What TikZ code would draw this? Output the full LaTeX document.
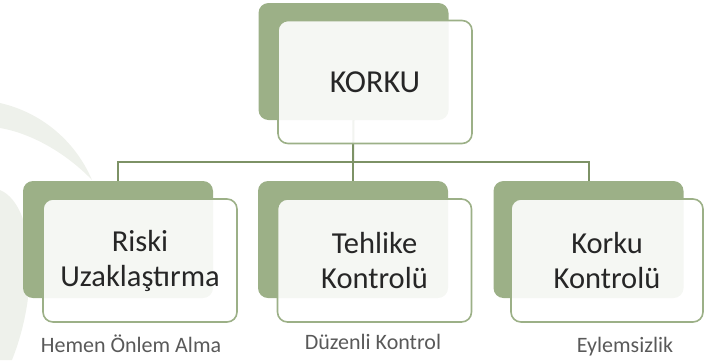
\documentclass[tikz,border=0pt]{standalone}
\usepackage{fontspec}
\setmainfont{Carlito}
\definecolor{backgreen}{HTML}{9CB087}
\definecolor{linegreen}{HTML}{7D9266}
\definecolor{swoosh}{HTML}{EEF1EB}
\definecolor{labelgray}{HTML}{595959}
\definecolor{txt}{HTML}{262626}
\begin{document}
\begin{tikzpicture}[x=1pt,y=-1pt,
  backbox/.style={fill=backgreen,rounded corners=10pt,inner sep=0pt,minimum width=190pt,minimum height=117pt},
  frontbox/.style={draw=backgreen,line width=1.6pt,fill=white,fill opacity=0.9,text opacity=1,rounded corners=10pt,inner sep=0pt,minimum width=194pt,minimum height=123pt,align=center,text=txt,font=\fontsize{30.5}{35}\selectfont},
  conn/.style={draw=linegreen,line width=2pt},
  sublabel/.style={text=labelgray,font=\fontsize{22}{26}\selectfont,inner sep=0pt,anchor=base}]
\useasboundingbox (0,0) rectangle (706,360);
% background swoosh
\fill[swoosh] (0,103) .. controls (40,112) and (75,140) .. (92,180) .. controls (65,152) and (30,133) .. (0,128) -- cycle;
\fill[swoosh] (0,190) .. controls (35,205) and (40,290) .. (12,360) -- (0,360) -- cycle;
% back boxes
\node[backbox] (tb) at (353.5,61.5) {};
\node[backbox] (lb) at (118,239.5) {};
\node[backbox] (mb) at (353,239.5) {};
\node[backbox] (rb) at (588.5,239.5) {};
% connectors
\coordinate (bus) at (353,162);
\draw[conn] (tb.south) -- (bus);
\draw[conn] (lb.north) |- (bus) -| (rb.north);
\draw[conn] (bus) -- (mb.north);
% front boxes
\node[frontbox,font=\fontsize{32}{36}\selectfont] (tf) at (375,82) {KORKU};
\node[frontbox] (lf) at (140,260.5) {Riski\\Uzaklaştırma};
\node[frontbox] (mf) at (374.5,260.5) {Tehlike\\Kontrolü};
\node[frontbox,minimum width=192pt] (rf) at (607,260.5) {Korku\\Kontrolü};
% labels
\node[sublabel] (l1) at (131,352) {Hemen Önlem Alma};
\node[sublabel] (l2) at (373,349) {Düzenli Kontrol};
\node[sublabel] (l3) at (625,352) {Eylemsizlik};
\end{tikzpicture}
\end{document}
